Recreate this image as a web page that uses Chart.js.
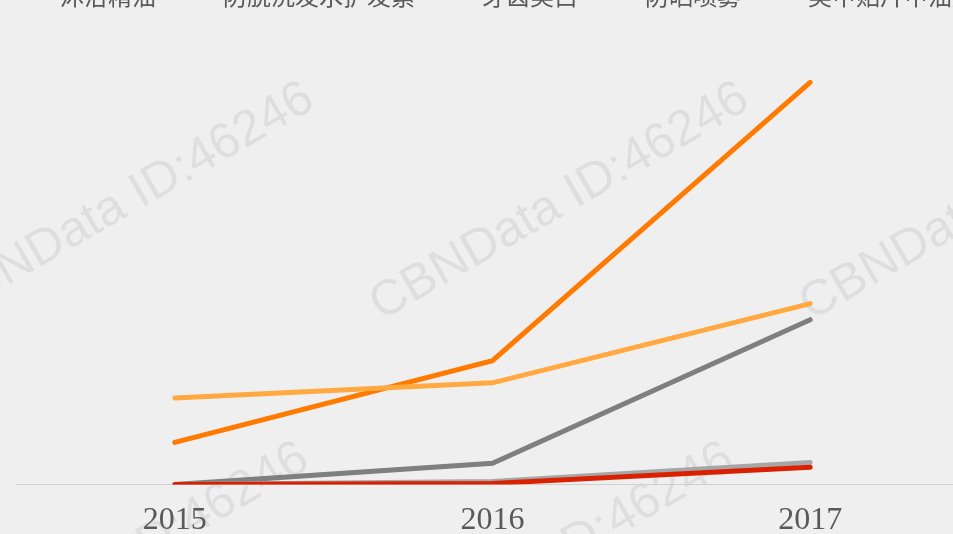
<!DOCTYPE html>
<html>
<head>
<meta charset="utf-8">
<script src="https://cdn.jsdelivr.net/npm/chart.js@4"></script>
<style>
  html, body { margin: 0; padding: 0; overflow: hidden; background: #efefef; }
  #wrap { position: absolute; left: -8px; top: -31px; width: 1000px; height: 588px; }
</style>
</head>
<body>
<div id="wrap"><canvas id="trendChart"></canvas></div>
<script>
// years on the x axis
const years = ['2015', '2016', '2017'];
// series names (legend, partly cut off at the top)
const seriesNames = ['沐浴精油', '防脱洗发水护发素', '牙齿美白', '防晒喷雾', '美甲贴片甲油胶'];
// values (relative index)
const oilValues = [10.5, 30.8, 100];
const hairValues = [21.5, 25.3, 45];
const teethValues = [0, 5.3, 41];
const sunValues = [0, 0.8, 5.5];
const nailValues = [0, 0.3, 4.3];

const colors = ['#ff7a00', '#ffa940', '#7f7f7f', '#a6a6a6', '#d92000'];
const allValues = [oilValues, hairValues, teethValues, sunValues, nailValues];

// paper background + watermark
const backdrop = {
    id: 'backdrop',
    beforeDraw(chart) {
        const c = chart.ctx;
        c.save();
        c.fillStyle = '#efefef';
        c.fillRect(0, 0, chart.width, chart.height);
        c.font = '50px "Liberation Sans", Arial, sans-serif';
        c.fillStyle = 'rgba(0,0,0,0.07)';
        c.textAlign = 'right';
        const ends = [[310, 95], [745, 95], [1175, 95], [305, 455], [730, 455]];
        ends.forEach(([x, y]) => {
            c.save();
            c.translate(x + 8, y + 31);
            c.rotate(-30 * Math.PI / 180);
            c.fillText('CBNData ID:46246', 0, 0);
            c.restore();
        });
        c.restore();
    }
};

const ctx = document.getElementById('trendChart').getContext('2d');
const trendChart = new Chart(ctx, {
    type: 'line',
    data: {
        labels: years,
        datasets: seriesNames.map((name, i) => ({
            label: name,
            data: allValues[i],
            borderColor: colors[i],
            backgroundColor: colors[i],
            borderWidth: 5,
            borderCapStyle: 'round',
            pointRadius: 0,
            pointStyle: 'line',
            tension: 0,
            order: 5 - i   // red drawn on top
        }))
    },
    options: {
        responsive: true,
        maintainAspectRatio: false,
        animation: false,
        layout: { padding: 0 },
        plugins: {
            legend: {
                position: 'top',
                labels: {
                    usePointStyle: true,
                    pointStyleWidth: 40,
                    boxWidth: 40,
                    padding: 15,
                    color: '#595959',
                    font: { family: '"Noto Sans CJK SC", sans-serif', size: 24 },
                    sort: (a, b) => a.datasetIndex - b.datasetIndex
                }
            },
            tooltip: { enabled: false }
        },
        scales: {
            x: {
                offset: true,
                grid: { display: false, drawTicks: false },
                border: { display: true, color: '#cfcfcf', width: 1 },
                ticks: {
                    padding: 17,
                    color: '#595959',
                    font: { family: '"Liberation Serif", serif', size: 32 }
                }
            },
            y: {
                min: 0,
                max: 116,
                grid: { display: false, drawTicks: false },
                border: { display: false },
                ticks: { display: false },
                afterFit(scale) { scale.width = 24; }
            },
            yRight: {
                position: 'right',
                min: 0,
                max: 116,
                grid: { display: false, drawTicks: false },
                border: { display: false },
                ticks: { display: false },
                afterFit(scale) { scale.width = 23; }
            }
        }
    },
    plugins: [backdrop]
});
</script>
</body>
</html>
